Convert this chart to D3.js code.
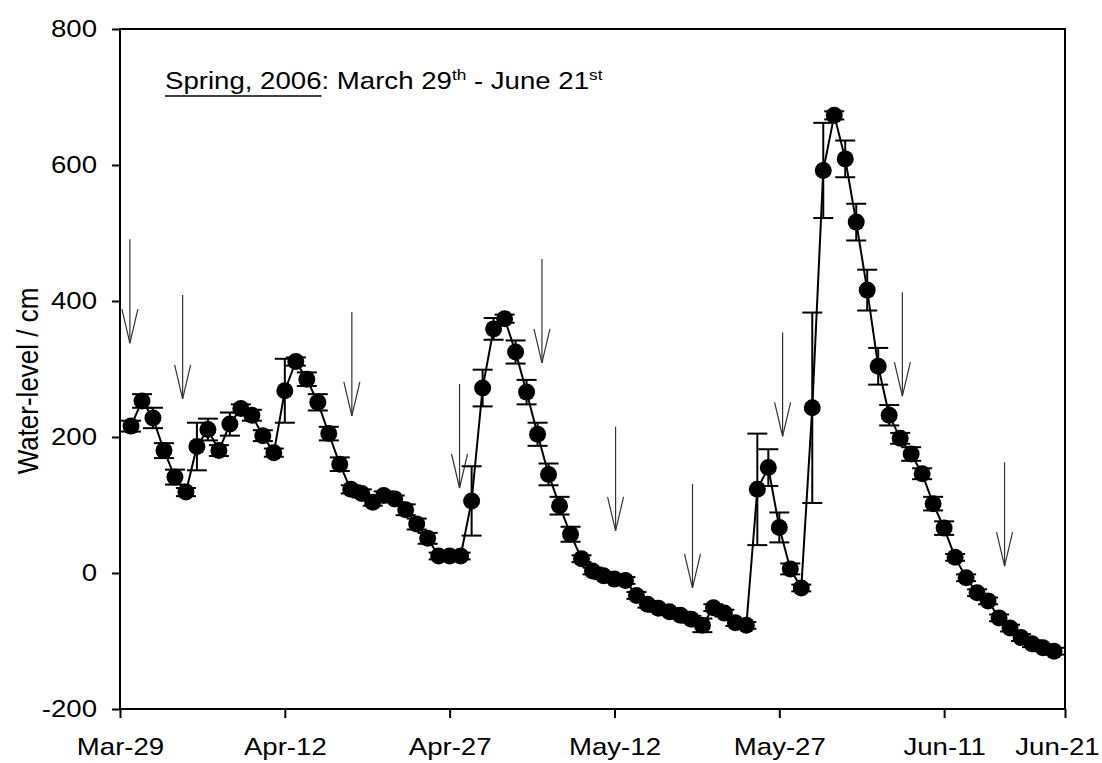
<!DOCTYPE html>
<html>
<head>
<meta charset="utf-8">
<script src="https://cdn.jsdelivr.net/npm/d3@7"></script>
<style>
  body { margin: 0; background: #fff; }
  text { font-family: Arial, "Liberation Sans", sans-serif; }
</style>
</head>
<body>
<svg id="uno"></svg>
<script>
// days after Mar-29, one reading per day
let dias = d3.range(1, 86);

let nivel = [216,253,228,180,141,119,186,211,180,219,242,232,202,177,268,311,285,251,205,160,
             123,117,104,114,109,93,72,51,25,25,25,106,272,359,374,325,266,204,145,99,
             57,21,3,-4,-9,-11,-33,-46,-52,-57,-62,-68,-77,-51,-59,-73,-77,123,155,67,
             6,-22,243,592,673,609,516,416,304,232,198,175,146,102,66,23,-7,-29,-41,-66,
             -81,-95,-104,-110,-115];

let error = [8,10,15,11,11,6,35,16,8,17,6,8,8,6,47,6,10,12,10,10,
             6,6,5,6,5,8,8,8,5,5,5,51,27,16,6,17,18,17,16,13,
             11,5,5,5,5,5,5,5,5,5,5,5,10,5,5,5,5,82,27,22,
             8,5,140,70,6,27,27,30,27,15,8,10,8,10,10,5,5,5,5,5,
             5,5,5,5,5];

// arrows: day and level where the head ends
let flechaDia = [0.9, 5.7, 21.1, 30.9, 38.4, 45.1, 52.1, 60.3, 71.2, 80.5];
let flechaNivel = [338, 256, 231, 125, 309, 62, -22, 201, 260, 10];

let tickDias = [0, 15, 30, 45, 60, 75, 86];
let tickNombres = ["Mar-29","Apr-12","Apr-27","May-12","May-27","Jun-11","Jun-21"];
let yTicks = [-200, 0, 200, 400, 600, 800];

let ancho = 1102, alto = 763;
let izq = 120, der = 1065, arriba = 29, abajo = 709;
let estira = 1.15; // text in the original is a bit wide

let misvg = d3.select("#uno")
  .attr("width", ancho)
  .attr("height", alto);

let x = d3.scaleLinear().domain([0, 86]).range([izq, der]);
let y = d3.scaleLinear().domain([-200, 800]).range([abajo, arriba]);

// frame
misvg.append("rect")
  .attr("x", izq).attr("y", arriba)
  .attr("width", der - izq).attr("height", abajo - arriba)
  .attr("fill", "none").attr("stroke", "#000").attr("stroke-width", 2);

let ejeX = misvg.append("g")
  .attr("transform", "translate(0," + abajo + ")")
  .call(d3.axisBottom(x).tickValues(tickDias).tickFormat((d, i) => tickNombres[i]).tickSize(9));

let ejeY = misvg.append("g")
  .attr("transform", "translate(" + izq + ",0)")
  .call(d3.axisLeft(y).tickValues(yTicks).tickFormat(d => String(d)).tickSize(8));

[ejeX, ejeY].forEach(g => {
  g.select(".domain").remove();
  g.selectAll("line").attr("stroke", "#000").attr("stroke-width", 2);
  g.selectAll("text").attr("font-size", 24).attr("fill", "#000")
    .attr("font-family", "Arial, 'Liberation Sans', sans-serif")
    .attr("transform", "scale(" + estira + ",1)");
});
ejeX.selectAll("text").attr("y", 46).attr("dy", 0);
// last label sits against the right edge
ejeX.selectAll("text").filter((d, i) => i == tickDias.length - 1).attr("x", -8 / estira);
ejeY.selectAll("text").attr("x", -23 / estira);

misvg.append("text")
  .attr("transform", "translate(38,381) scale(" + estira + ",1) rotate(-90)")
  .attr("text-anchor", "middle")
  .attr("font-size", 26)
  .text("Water-level / cm");

// arrows
let flechas = misvg.append("g").attr("stroke", "#333").attr("stroke-width", 1.2).attr("fill", "none");
flechaDia.forEach((d, i) => {
  let fx = x(d), fy = y(flechaNivel[i]);
  flechas.append("line").attr("x1", fx).attr("x2", fx).attr("y1", fy - 104).attr("y2", fy);
  flechas.append("path").attr("d", "M" + (fx - 8) + "," + (fy - 34) + "L" + fx + "," + fy + "L" + (fx + 8) + "," + (fy - 34));
});

// connecting line
let linea = d3.line().x((d, i) => x(dias[i])).y(d => y(d));
misvg.append("path")
  .datum(nivel)
  .attr("d", linea)
  .attr("fill", "none")
  .attr("stroke", "#000")
  .attr("stroke-width", 2);

// error bars
let barras = misvg.append("g").attr("stroke", "#000").attr("stroke-width", 2);
nivel.forEach((v, i) => {
  let bx = x(dias[i]);
  let y1 = y(v + error[i]), y2 = y(v - error[i]);
  barras.append("line").attr("x1", bx).attr("x2", bx).attr("y1", y1).attr("y2", y2);
  barras.append("line").attr("x1", bx - 10).attr("x2", bx + 10).attr("y1", y1).attr("y2", y1);
  barras.append("line").attr("x1", bx - 10).attr("x2", bx + 10).attr("y1", y2).attr("y2", y2);
});

misvg.selectAll("circle")
  .data(nivel)
  .enter()
  .append("circle")
  .attr("cx", (d, i) => x(dias[i]))
  .attr("cy", d => y(d))
  .attr("r", 8.5)
  .attr("fill", "#000");

// title text
let titulo = misvg.append("text")
  .attr("transform", "translate(165,89) scale(" + estira + ",1)")
  .attr("font-size", 24);
titulo.append("tspan").text("Spring, 2006");
titulo.append("tspan").text(": March 29");
titulo.append("tspan").attr("dy", -9).attr("font-size", 15).text("th");
titulo.append("tspan").attr("dy", 9).text(" - June 21");
titulo.append("tspan").attr("dy", -9).attr("font-size", 15).text("st");

let largo = titulo.node().getSubStringLength(0, 12) * estira;
misvg.append("line")
  .attr("x1", 165).attr("x2", 165 + largo)
  .attr("y1", 96).attr("y2", 96)
  .attr("stroke", "#000").attr("stroke-width", 1.5);
</script>
</body>
</html>
